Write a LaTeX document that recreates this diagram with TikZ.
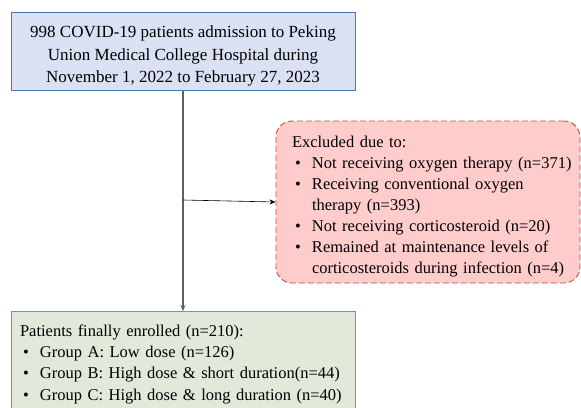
\documentclass[tikz,border=0pt]{standalone}
\usepackage{fontspec}
\setmainfont{Liberation Serif}
\usetikzlibrary{arrows.meta}
\definecolor{topfill}{RGB}{218,225,242}
\definecolor{topline}{RGB}{79,113,190}
\definecolor{exfill}{RGB}{255,204,204}
\definecolor{exline}{RGB}{184,84,80}
\definecolor{enfill}{RGB}{226,232,218}
\definecolor{enline}{RGB}{122,150,140}
\definecolor{connc}{RGB}{95,95,95}
\newcommand{\bulitem}[1]{\par\hangindent=20pt\hangafter=1\noindent\hbox to 20pt{\hspace{3pt}\textbullet\hfil}#1}
\begin{document}
\begin{tikzpicture}[x=1pt,y=-1pt,
  topbox/.style={draw=topline,fill=topfill,line width=1pt,minimum width=344pt,minimum height=78pt,inner sep=0pt,align=center,font=\fontsize{17}{22.5}\selectfont},
  exbox/.style={draw=exline,fill=exfill,line width=0.9pt,dashed,dash pattern=on 6pt off 3pt,rounded corners=16pt,minimum height=162pt,text width=272pt,inner xsep=16pt,inner ysep=0pt,align=left,font=\fontsize{16.5}{21}\selectfont},
  enbox/.style={draw=enline,fill=enfill,line width=1pt,text width=326pt,inner xsep=9pt,inner ysep=13pt,align=left,font=\fontsize{16.5}{21.3}\selectfont},
  conn/.style={draw=connc,line width=1.3pt,-{Stealth[length=6pt,width=5pt]}},
  connb/.style={draw=black,line width=0.6pt,-{Stealth[length=6pt,width=5pt]}}
]
\useasboundingbox (0,0) rectangle (581,407);
\node[topbox] (top) at (183,51) {\rule{0pt}{22pt}998 COVID-19 patients admission to Peking\\Union Medical College Hospital during\\November 1, 2022 to February 27, 2023};
\node[exbox] (excl) at (428,202) {\rule{0pt}{20pt}\mbox{Excluded due to:}
\bulitem{\mbox{Not receiving oxygen therapy (n=371)}}
\bulitem{\mbox{Receiving conventional oxygen}\newline\mbox{therapy (n=393)}}
\bulitem{\mbox{Not receiving corticosteroid (n=20)}}
\bulitem{\mbox{Remained at maintenance levels of}\newline\mbox{corticosteroids during infection (n=4)}}\par};
\node[enbox,anchor=north] (enr) at (183,311) {\mbox{Patients finally enrolled (n=210):}
\bulitem{\mbox{Group A: Low dose (n=126)}}
\bulitem{\mbox{Group B: High dose \& short duration(n=44)}}
\bulitem{\mbox{Group C: High dose \& long duration (n=40)}}\par\vspace*{20pt}};
\coordinate (j) at (183,200);
\draw[conn] (top.south) -- (enr.north);
\draw[connb] (j) -- (excl.west);
\end{tikzpicture}
\end{document}
